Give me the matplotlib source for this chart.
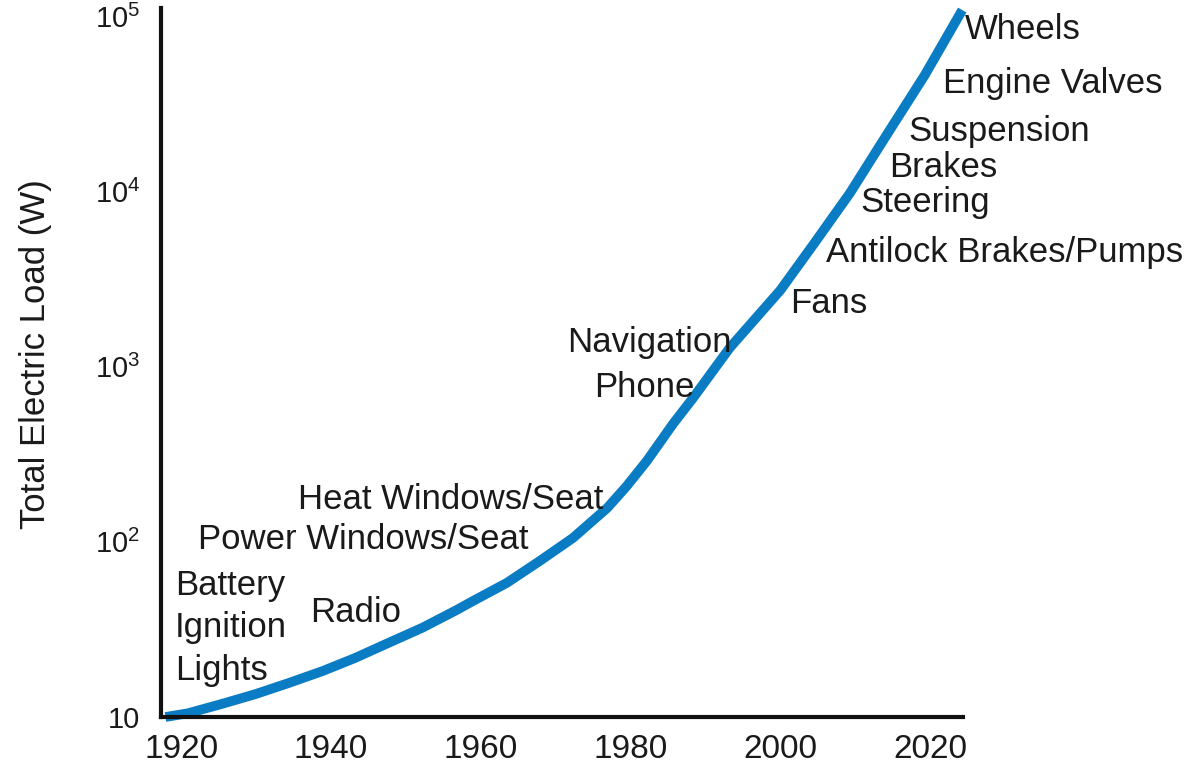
import matplotlib
matplotlib.use("Agg")
import matplotlib.pyplot as plt

plt.rcParams['font.family'] = ['Liberation Sans', 'DejaVu Sans']
plt.rcParams['mathtext.fontset'] = 'custom'
plt.rcParams['mathtext.rm'] = 'Liberation Sans'

# --------- data -------------------------------
years = [1917.9, 1920.9, 1925.5, 1929.9, 1934.3, 1938.9, 1943.2, 1947.7,
         1952.2, 1956.6, 1959.0, 1963.5, 1967.9, 1972.3, 1976.9, 1979.5,
         1982.2, 1985.7, 1988.4, 1992.0, 1993.3, 2000.0, 2004.4, 2009.3,
         2012.9, 2015.3, 2019.3, 2024.3]
load_w = [10, 10.5, 11.9, 13.5, 15.6, 18.3, 21.7, 26.5,
          32.3, 40.4, 46.0, 58.3, 77.8, 105, 156, 208,
          290, 472, 665, 1080, 1285, 2720, 4950, 9750,
          17100, 24800, 46000, 108000]

x_ticks = [1920, 1940, 1960, 1980, 2000, 2020]
y_ticks = [10, 1e2, 1e3, 1e4, 1e5]
y_tick_labels = ['10', r'$\mathregular{10^{2}}$', r'$\mathregular{10^{3}}$',
                 r'$\mathregular{10^{4}}$', r'$\mathregular{10^{5}}$']

labels = ["Wheels", "Engine Valves", "Suspension", "Brakes", "Steering",
          "Antilock Brakes/Pumps", "Fans", "Navigation", "Phone",
          "Heat Windows/Seat", "Power Windows/Seat", "Battery", "Ignition",
          "Lights", "Radio"]
# left edge / baseline of each label, in pixels of the 1192x769 image
label_px = [(965, 39), (943, 93), (908, 141), (889, 177), (860, 212),
            (826, 262), (790, 313), (567, 352), (594, 397),
            (298, 509), (198, 549), (175, 595), (175, 637),
            (175, 680), (310, 622)]

W, H = 1192, 769
fig = plt.figure(figsize=(W / 100, H / 100), dpi=100, facecolor="white")
ax = fig.add_axes([161 / W, 1 - 717 / H, (963 - 161) / W, (717 - 8) / H])

ax.plot(years, load_w, color="#0a7cc4", linewidth=7,
        solid_capstyle="butt", solid_joinstyle="round",
        clip_on=False, zorder=1)

ax.set_yscale("log")
ax.set_xlim(1917.3, 2024.4)
ax.set_ylim(10, 111000)

ax.set_xticks(x_ticks)
ax.set_xticklabels([str(t) for t in x_ticks], fontsize=24, color="#1a1a1a")
ax.set_yticks(y_ticks)
ax.set_yticklabels(y_tick_labels, fontsize=21, color="#1a1a1a")
ax.yaxis.set_minor_locator(matplotlib.ticker.NullLocator())
ax.tick_params(axis="x", length=0, pad=12)
ax.tick_params(axis="y", length=0, pad=15)

for side in ["top", "right"]:
    ax.spines[side].set_visible(False)
for side in ["left", "bottom"]:
    ax.spines[side].set_linewidth(3)
    ax.spines[side].set_color("#111111")
    ax.spines[side].set_zorder(3)

fig.text(36 / W, 1 - 354 / H, "Total Electric Load (W)", rotation=90,
         ha="center", va="center", fontsize=25, color="#1a1a1a")

for txt, (px, py) in zip(labels, label_px):
    fig.text(px / W, 1 - py / H, txt, ha="left", va="baseline",
             fontsize=25, color="#1a1a1a")

plt.savefig("out.png", dpi=100, facecolor="white")
